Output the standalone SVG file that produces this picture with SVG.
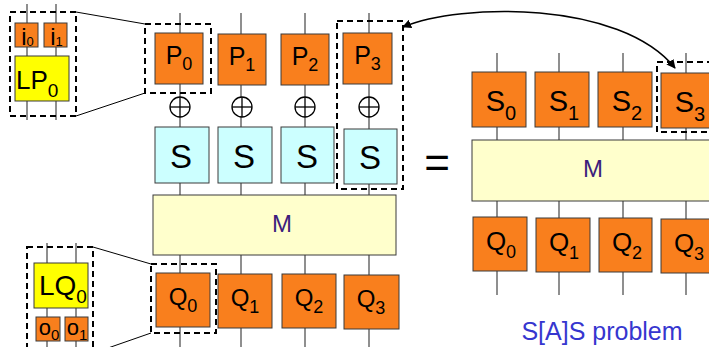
<svg xmlns="http://www.w3.org/2000/svg" width="709" height="347" viewBox="0 0 709 347">
  <style>
    .orange { fill: #f97f1d; stroke: #3a3a3a; stroke-width: 1; }
    .cyan { fill: #ccffff; stroke: #3a3a3a; stroke-width: 1; }
    .mix { fill: #ffffcc; stroke: #3a3a3a; stroke-width: 1; }
    .yellow { fill: #ffff00; stroke: #3a3a3a; stroke-width: 1; }
    .wire { stroke: #6a6a6a; stroke-width: 1.5; fill: none; }
    .dash { fill: none; stroke: #000; stroke-width: 2; stroke-dasharray: 6 4; }
    .zoomline { stroke: #000; stroke-width: 1; fill: none; }
    .xor { fill: #fff; stroke: #000; stroke-width: 1.3; }
    .xorbar { stroke: #000; stroke-width: 1.3; }
    text { font-family: "Liberation Sans", Arial, sans-serif; fill: #000; }
    .mlabel { fill: #3d1d7c; font-size: 24px; text-anchor: middle; }
    .mid { text-anchor: middle; }
  </style>
  <defs>
    <marker id="arrow" viewBox="0 0 10 10" refX="9" refY="5" markerWidth="9" markerHeight="9" markerUnits="userSpaceOnUse" orient="auto-start-reverse">
      <path d="M0,0 L10,5 L0,10 z" fill="#000"/>
    </marker>
  </defs>

  <!-- wires (drawn beneath the blocks) -->
  <g id="wires">
    <!-- left cipher columns -->
    <line class="wire" x1="180" y1="13" x2="180" y2="195"/>
    <line class="wire" x1="241" y1="13" x2="241" y2="195"/>
    <line class="wire" x1="305" y1="13" x2="305" y2="195"/>
    <line class="wire" x1="369" y1="13" x2="369" y2="195"/>
    <line class="wire" x1="180" y1="255" x2="180" y2="347"/>
    <line class="wire" x1="241" y1="255" x2="241" y2="347"/>
    <line class="wire" x1="305" y1="255" x2="305" y2="347"/>
    <line class="wire" x1="369" y1="255" x2="369" y2="347"/>
    <!-- right S[A]S columns -->
    <line class="wire" x1="497" y1="53" x2="497" y2="295"/>
    <line class="wire" x1="559" y1="53" x2="559" y2="295"/>
    <line class="wire" x1="623" y1="53" x2="623" y2="295"/>
    <line class="wire" x1="686" y1="53" x2="686" y2="295"/>
    <!-- detail inserts -->
    <line class="wire" x1="27" y1="4" x2="27" y2="120"/>
    <line class="wire" x1="56" y1="4" x2="56" y2="120"/>
    <line class="wire" x1="47" y1="243" x2="47" y2="347"/>
    <line class="wire" x1="76" y1="243" x2="76" y2="347"/>
  </g>

  <!-- detail of P0: two inputs into LP0 -->
  <g id="detail-lp">
    <rect class="orange" x="15" y="23" width="23" height="24"/>
    <text x="27.5" y="45" font-size="24" class="mid">i<tspan font-size="13" dy="1">0</tspan></text>
    <rect class="orange" x="44" y="23" width="23" height="24"/>
    <text x="56.5" y="45" font-size="24" class="mid">i<tspan font-size="13" dy="1">1</tspan></text>
    <rect class="yellow" x="15" y="56" width="54" height="45"/>
    <text x="16" y="89" font-size="26">LP<tspan font-size="19" dy="8">0</tspan></text>
    <rect class="dash" x="10" y="12" width="66" height="104"/>
  </g>

  <!-- detail of Q0: LQ0 into two outputs -->
  <g id="detail-lq">
    <rect class="yellow" x="34" y="263" width="54" height="45"/>
    <text x="39" y="295" font-size="28">LQ<tspan font-size="19" dy="8">0</tspan></text>
    <rect class="orange" x="36" y="317" width="24" height="24"/>
    <text x="49" y="335" font-size="22" class="mid">o<tspan font-size="15" dy="5">0</tspan></text>
    <rect class="orange" x="65" y="317" width="23" height="24"/>
    <text x="77" y="335" font-size="22" class="mid">o<tspan font-size="15" dy="5">1</tspan></text>
    <rect class="dash" x="27" y="247" width="66" height="110"/>
  </g>

  <!-- key-dependent input layer P -->
  <g id="P0"><rect class="orange" x="155" y="33" width="48" height="51"/>
    <text x="179" y="64" font-size="25" class="mid">P<tspan font-size="18" dy="6">0</tspan></text></g>
  <g id="P1"><rect class="orange" x="218" y="34" width="48" height="51"/>
    <text x="242" y="65" font-size="25" class="mid">P<tspan font-size="18" dy="6">1</tspan></text></g>
  <g id="P2"><rect class="orange" x="281" y="34" width="48" height="51"/>
    <text x="305" y="65" font-size="25" class="mid">P<tspan font-size="18" dy="6">2</tspan></text></g>
  <g id="P3"><rect class="orange" x="343" y="33" width="49" height="51"/>
    <text x="367.5" y="64" font-size="25" class="mid">P<tspan font-size="18" dy="6">3</tspan></text></g>

  <!-- key additions -->
  <g id="xor0"><circle class="xor" cx="180" cy="107" r="10"/><line class="xorbar" x1="170" y1="107" x2="190" y2="107"/><line class="xorbar" x1="180" y1="97" x2="180" y2="117"/></g>
  <g id="xor1"><circle class="xor" cx="242" cy="107" r="10"/><line class="xorbar" x1="232" y1="107" x2="252" y2="107"/><line class="xorbar" x1="242" y1="97" x2="242" y2="117"/></g>
  <g id="xor2"><circle class="xor" cx="305" cy="107" r="10"/><line class="xorbar" x1="295" y1="107" x2="315" y2="107"/><line class="xorbar" x1="305" y1="97" x2="305" y2="117"/></g>
  <g id="xor3"><circle class="xor" cx="369" cy="107" r="10"/><line class="xorbar" x1="359" y1="107" x2="379" y2="107"/><line class="xorbar" x1="369" y1="97" x2="369" y2="117"/></g>

  <!-- S-box layer -->
  <g id="S0"><rect class="cyan" x="155" y="127" width="54" height="56"/><text x="181" y="168" font-size="33" class="mid">S</text></g>
  <g id="S1"><rect class="cyan" x="218" y="127" width="54" height="56"/><text x="244" y="168" font-size="33" class="mid">S</text></g>
  <g id="S2"><rect class="cyan" x="281" y="127" width="53" height="56"/><text x="307" y="168" font-size="33" class="mid">S</text></g>
  <g id="S3"><rect class="cyan" x="344" y="129" width="53" height="55"/><text x="370" y="169" font-size="33" class="mid">S</text></g>

  <!-- linear mixing layer -->
  <g id="M-left"><rect class="mix" x="153" y="195" width="243" height="60"/><text x="282" y="232" class="mlabel">M</text></g>

  <!-- output layer Q -->
  <g id="Q0"><rect class="orange" x="156" y="273" width="54" height="54"/>
    <text x="183" y="305" font-size="24" class="mid">Q<tspan font-size="18" dy="7">0</tspan></text></g>
  <g id="Q1"><rect class="orange" x="218" y="274" width="54" height="54"/>
    <text x="245" y="306" font-size="24" class="mid">Q<tspan font-size="18" dy="7">1</tspan></text></g>
  <g id="Q2"><rect class="orange" x="282" y="274" width="54" height="54"/>
    <text x="309" y="306" font-size="24" class="mid">Q<tspan font-size="18" dy="7">2</tspan></text></g>
  <g id="Q3"><rect class="orange" x="344" y="275" width="55" height="54"/>
    <text x="371" y="307" font-size="24" class="mid">Q<tspan font-size="18" dy="7">3</tspan></text></g>

  <!-- highlighted frames in the cipher -->
  <g id="frames">
    <rect class="dash" x="145" y="24" width="66" height="69"/>
    <rect class="dash" x="337" y="21" width="66" height="168"/>
    <rect class="dash" x="151" y="264" width="65" height="69"/>
  </g>

  <text x="437" y="178" font-size="44" class="mid">=</text>

  <!-- S[A]S structure -->
  <g id="RS0"><rect class="orange" x="472" y="72" width="54" height="55"/>
    <text x="501" y="111" font-size="29" class="mid">S<tspan font-size="20" dy="9">0</tspan></text></g>
  <g id="RS1"><rect class="orange" x="535" y="72" width="54" height="55"/>
    <text x="564" y="111" font-size="29" class="mid">S<tspan font-size="20" dy="9">1</tspan></text></g>
  <g id="RS2"><rect class="orange" x="598" y="72" width="54" height="55"/>
    <text x="627" y="111" font-size="29" class="mid">S<tspan font-size="20" dy="9">2</tspan></text></g>
  <g id="RS3"><rect class="orange" x="661" y="73" width="54" height="55"/>
    <text x="690" y="112" font-size="29" class="mid">S<tspan font-size="20" dy="9">3</tspan></text></g>

  <g id="M-right"><rect class="mix" x="472" y="140" width="250" height="61"/><text x="593" y="177" class="mlabel">M</text></g>

  <g id="RQ0"><rect class="orange" x="473" y="217" width="54" height="54"/>
    <text x="501" y="250" font-size="26" class="mid">Q<tspan font-size="18" dy="8">0</tspan></text></g>
  <g id="RQ1"><rect class="orange" x="536" y="218" width="54" height="54"/>
    <text x="564" y="251" font-size="26" class="mid">Q<tspan font-size="18" dy="8">1</tspan></text></g>
  <g id="RQ2"><rect class="orange" x="599" y="218" width="53" height="54"/>
    <text x="627" y="251" font-size="26" class="mid">Q<tspan font-size="18" dy="8">2</tspan></text></g>
  <g id="RQ3"><rect class="orange" x="661" y="219" width="54" height="54"/>
    <text x="689" y="252" font-size="26" class="mid">Q<tspan font-size="18" dy="8">3</tspan></text></g>

  <rect class="dash" x="657" y="62" width="60" height="70"/>

  <text x="602" y="340" font-size="25" style="fill:#3636cf" class="mid">S[A]S problem</text>

  <!-- connectors: zoom lines and the correspondence arrow -->
  <g id="connectors">
    <line class="zoomline" x1="76" y1="12" x2="145" y2="24"/>
    <line class="zoomline" x1="76" y1="116" x2="145" y2="93"/>
    <line class="zoomline" x1="93" y1="247" x2="151" y2="264"/>
    <line class="zoomline" x1="108" y1="348" x2="151" y2="333"/>
    <path d="M403,27 C460,3 620,0 675,68" fill="none" stroke="#000" stroke-width="1.5" marker-start="url(#arrow)" marker-end="url(#arrow)"/>
  </g>
</svg>
